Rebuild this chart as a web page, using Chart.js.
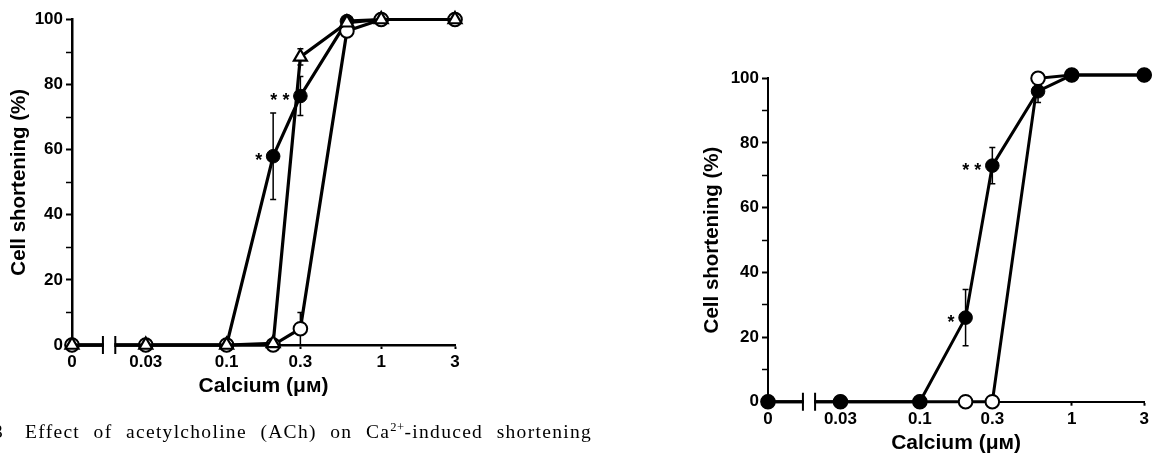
<!DOCTYPE html>
<html>
<head>
<meta charset="utf-8">
<script src="https://cdn.jsdelivr.net/npm/chart.js@4.4.1/dist/chart.umd.min.js"></script>
<style>
  html, body { margin: 0; padding: 0; background: #fff; width: 1153px; height: 453px; overflow: hidden; }
  canvas { position: absolute; top: 0; }
  #chartA { left: 0; }
  #chartB { left: 690px; }
  #caption {
    position: absolute; left: 25px; top: 421px;
    font: 19.5px "Liberation Serif", "Times New Roman", serif;
    letter-spacing: 1.3px;
    line-height: 22px; white-space: nowrap; color: #000;
  }
  #caption sup { font-size: 12.5px; line-height: 0; vertical-align: 7px; letter-spacing: 0.5px; }
  #figno { position: absolute; left: -7px; top: 421px; font: 19.5px "Liberation Serif", serif; line-height: 22px; }
</style>
</head>
<body>
<canvas id="chartA" width="480" height="453"></canvas>
<canvas id="chartB" width="463" height="470"></canvas>
<div id="figno">3</div>
<div id="caption">Effect of acetylcholine (ACh) on Ca<sup>2+</sup>-induced shortening</div>
<script>
// --- Data ---
const calcium = [0, 0.03, 0.1, 0.2, 0.3, 0.6, 1, 3];
const xTicks = [0, 0.03, 0.1, 0.3, 1, 3];
const xTickLabels = ['0', '0.03', '0.1', '0.3', '1', '3'];

// left panel
const aControl = [0, 0, 0, 0, 5, 96.5, 100, 100];
const aControlErr = [0, 0, 0, 0, 5, 0, 0, 0];
const aAch = [0, 0, 0, 58, 76.5, 99.5, 100, 100];
const aAchErr = [0, 0, 0, 13.3, 6, 0, 0, 0];
const aTriangle = [0, 0, 0, 0.5, 88.5, 99, 100, 100];
const aTriangleErr = [0, 0, 0, 0, 2.5, 0, 0, 0];
const aStarX = [0.2, 0.3];
const aStarText = ['*', '* *'];

// right panel
const bControl = [0, 0, 0, 0, 0, 100, 101, 101];
const bAch = [0, 0, 0, 26, 73, 96, 101, 101];
const bAchErr = [0, 0, 0, 8.7, 5.6, 3.5, 0, 0];
const bStarX = [0.2, 0.3];
const bStarText = ['*', '* *'];

// "0" sits two decades below 1 on the broken log axis
const ZERO_LOG = -2;
const xPos = c => c === 0 ? ZERO_LOG : Math.log10(c);
const toPoints = vals => calcium.map((c, i) => ({ x: xPos(c), y: vals[i] }));

const FONT = "'Liberation Sans', Arial, 'DejaVu Sans', sans-serif";

const extras = {
    id: 'extras',
    beforeDatasetsDraw(chart) {
        const { ctx, scales: { x, y } } = chart;
        ctx.save();
        ctx.strokeStyle = '#000';
        ctx.lineWidth = 1.5;
        chart.data.datasets.forEach(ds => {
            if (!ds.errors) return;
            ds.errors.forEach((e, i) => {
                if (!e) return;
                const px = x.getPixelForValue(ds.data[i].x);
                const top = y.getPixelForValue(ds.data[i].y + e);
                const bot = y.getPixelForValue(ds.data[i].y - e);
                ctx.beginPath();
                ctx.moveTo(px, top); ctx.lineTo(px, bot);
                ctx.moveTo(px - 3, top); ctx.lineTo(px + 3, top);
                ctx.moveTo(px - 3, bot); ctx.lineTo(px + 3, bot);
                ctx.stroke();
            });
        });
        ctx.restore();
    },
    afterDatasetsDraw(chart, args, opts) {
        const { ctx, scales: { x, y } } = chart;
        const y0 = y.getPixelForValue(0);
        const g0 = x.getPixelForValue(opts.gap[0]);
        const g1 = x.getPixelForValue(opts.gap[1]);
        ctx.save();
        // axis break
        ctx.fillStyle = '#fff';
        ctx.fillRect(g0 + 1, y0 - 4, g1 - g0 - 2, 8);
        ctx.strokeStyle = '#000';
        ctx.lineWidth = 2;
        ctx.beginPath();
        [g0, g1].forEach(g => { ctx.moveTo(g, y0 - 9); ctx.lineTo(g, y0 + 9); });
        ctx.stroke();
        // significance stars
        ctx.fillStyle = '#000';
        ctx.font = 'bold 18px ' + FONT;
        ctx.textAlign = 'right';
        ctx.textBaseline = 'alphabetic';
        opts.starX.forEach((c, i) => {
            const px = x.getPixelForValue(xPos(c));
            const py = y.getPixelForValue(opts.starY[i]);
            ctx.fillText(opts.starText[i], px - 11, py + 10);
        });
        ctx.restore();
    }
};

function makePanel(id, datasets, geo) {
    return new Chart(document.getElementById(id), {
        type: 'line',
        data: { datasets },
        plugins: [extras],
        options: {
            responsive: false,
            animation: false,
            events: [],
            layout: { padding: geo.padding },
            plugins: {
                legend: { display: false },
                tooltip: { enabled: false },
                extras: { gap: geo.gap, starX: geo.starX, starY: geo.starY, starText: geo.starText }
            },
            scales: {
                x: {
                    type: 'linear',
                    min: ZERO_LOG,
                    max: Math.log10(3),
                    afterBuildTicks: s => { s.ticks = xTicks.map(c => ({ value: xPos(c) })); },
                    afterFit: s => { s.height = 55; s.paddingLeft = 0; s.paddingRight = 0; },
                    border: { display: true, color: '#000', width: geo.axisWidth },
                    grid: { drawOnChartArea: false, tickLength: 4, tickColor: '#000', tickWidth: 2 },
                    ticks: {
                        autoSkip: false, maxRotation: 0, padding: 3, color: '#000',
                        font: { family: FONT, size: 17, weight: 'bold' },
                        callback: (v, i) => xTickLabels[i]
                    },
                    title: {
                        display: true, text: 'Calcium (μᴍ)', color: '#000',
                        font: { family: FONT, size: 21, weight: 'bold' }, padding: { top: 0, bottom: 1 }
                    }
                },
                y: {
                    min: 0,
                    max: 100,
                    afterFit: s => { s.width = geo.yAxisWidth; s.paddingTop = 0; s.paddingBottom = 0; },
                    border: { display: true, color: '#000', width: geo.axisWidth },
                    grid: {
                        drawOnChartArea: false, tickLength: 6, tickColor: '#000',
                        tickWidth: c => (c.tick && c.tick.value % 20) ? 1.5 : 2
                    },
                    ticks: {
                        stepSize: 10, padding: 3, color: '#000',
                        font: { family: FONT, size: 17, weight: 'bold' },
                        callback: v => v % 20 === 0 ? v : ''
                    },
                    title: {
                        display: true, text: 'Cell shortening (%)', color: '#000',
                        font: { family: FONT, size: 20.5, weight: 'bold' }, padding: { top: geo.yTitlePad, bottom: 0 }
                    }
                }
            }
        }
    });
}

const lineBase = { borderColor: '#000', pointBorderColor: '#000', tension: 0, clip: false };

// first dataset is drawn on top
makePanel('chartA', [
    { ...lineBase, data: toPoints(aTriangle), errors: aTriangleErr, borderWidth: 3.2,
      pointStyle: 'triangle', pointRadius: 7.5, pointBackgroundColor: '#fff', pointBorderWidth: 2.2 },
    { ...lineBase, data: toPoints(aControl), errors: aControlErr, borderWidth: 3.2,
      pointRadius: 6.8, pointBackgroundColor: '#fff', pointBorderWidth: 2 },
    { ...lineBase, data: toPoints(aAch), errors: aAchErr, borderWidth: 3.2,
      pointRadius: 6.8, pointBackgroundColor: '#000', pointBorderWidth: 1 }
], {
    padding: { top: 19.5, right: 25, bottom: 53, left: 0 },
    yAxisWidth: 72, yTitlePad: 7, axisWidth: 2.5,
    gap: [-1.8, -1.72],
    starX: aStarX, starText: aStarText,
    starY: aStarX.map(c => aAch[calcium.indexOf(c)])
});

makePanel('chartB', [
    { ...lineBase, data: toPoints(bAch), errors: bAchErr, borderWidth: 3,
      pointRadius: 6.8, pointBackgroundColor: '#000', pointBorderWidth: 1 },
    { ...lineBase, data: toPoints(bControl), borderWidth: 3,
      pointRadius: 6.8, pointBackgroundColor: '#fff', pointBorderWidth: 2 }
], {
    padding: { top: 78.3, right: 3, bottom: 13.3, left: 0 },
    yAxisWidth: 78, yTitlePad: 10.4, axisWidth: 2,
    gap: [-1.77, -1.69],
    starX: bStarX, starText: bStarText,
    starY: bStarX.map(c => bAch[calcium.indexOf(c)])
});

// justified caption: widen the word gaps to the printed line width
const cap = document.getElementById('caption');
const natural = cap.getBoundingClientRect().width;
const gaps = cap.textContent.split(' ').length - 1;
cap.style.wordSpacing = Math.max(0, (567 - natural) / gaps) + 'px';
</script>
</body>
</html>
